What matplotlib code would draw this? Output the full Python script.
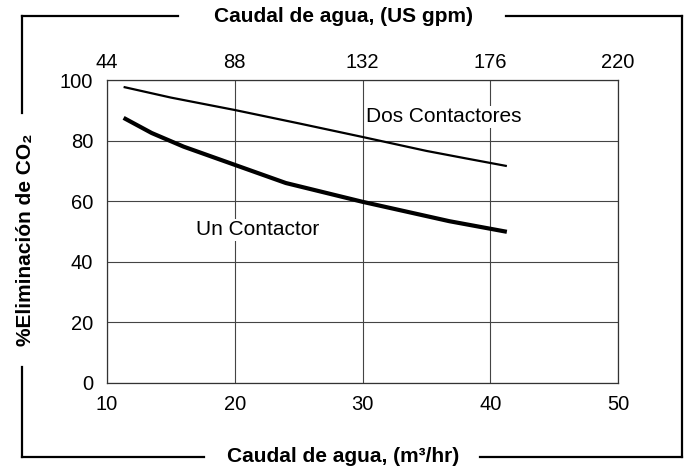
import matplotlib
matplotlib.use("Agg")
import matplotlib.pyplot as plt
from matplotlib.lines import Line2D

plt.rcParams["font.family"] = ["Liberation Sans", "DejaVu Sans"]

# datos (caudal en m3/hr, % eliminación de CO2)
dos_x = [11.3, 15, 20, 25, 30, 35, 38, 41.3]
dos_y = [97.7, 94.2, 90.1, 85.7, 81.2, 76.6, 74.2, 71.6]
un_x = [11.3, 13.5, 16, 20, 24, 30, 36.8, 41.3]
un_y = [87.5, 82.5, 78.0, 72.0, 66.0, 59.8, 53.4, 49.9]

xticks = [10, 20, 30, 40, 50]
yticks = [0, 20, 40, 60, 80, 100]
gpm_ticks = [44, 88, 132, 176, 220]

W, H = 686, 467


def fx(px):
    return px / W


def fy(py):
    return 1 - py / H


fig = plt.figure(figsize=(W / 100, H / 100), dpi=100)
ax = fig.add_axes([fx(107), fy(383), 511 / W, 303 / H])

ax.plot(dos_x, dos_y, color="black", lw=1.6, solid_capstyle="butt", zorder=3)
ax.plot(un_x, un_y, color="black", lw=3.0, solid_capstyle="butt", zorder=3)

ax.set_xlim(10, 50)
ax.set_ylim(0, 100)
ax.set_xticks(xticks)
ax.set_yticks(yticks)
ax.grid(True, color="#444444", lw=0.8)
ax.tick_params(length=0, labelsize=14.5)
ax.tick_params(axis="x", pad=9)
ax.tick_params(axis="y", pad=10)
for s in ax.spines.values():
    s.set_color("#333333")
    s.set_linewidth(0.9)

top = ax.twiny()
top.set_xlim(44, 220)
top.set_xticks(gpm_ticks)
top.tick_params(length=0, labelsize=14.5, pad=6)
for s in top.spines.values():
    s.set_visible(False)

caja = dict(facecolor="white", edgecolor="none", pad=1)
ax.text(30.3, 87.8, "Dos Contactores", fontsize=15, va="center", ha="left",
        bbox=caja, zorder=4)
ax.text(17.0, 50.5, "Un Contactor", fontsize=15, va="center", ha="left",
        bbox=caja, zorder=4)

# marco exterior, cortado donde van los títulos
tramos = [
    ((22, 16), (178, 16)), ((506, 16), (682, 16)),
    ((682, 16), (682, 457)),
    ((22, 457), (204, 457)), ((480, 457), (682, 457)),
    ((22, 16), (22, 113)), ((22, 367), (22, 457)),
]
for (x0, y0), (x1, y1) in tramos:
    fig.add_artist(Line2D([fx(x0), fx(x1)], [fy(y0), fy(y1)], color="black",
                          lw=1.6, solid_capstyle="projecting",
                          transform=fig.transFigure))

fig.text(fx(343), fy(16), "Caudal de agua, (US gpm)", ha="center",
         va="center", fontsize=15, fontweight="bold")
fig.text(fx(343), fy(457), "Caudal de agua, (m³/hr)", ha="center",
         va="center", fontsize=15, fontweight="bold")
fig.text(fx(26), fy(240), "%Eliminación de CO₂", ha="center",
         va="center", rotation=90, fontsize=15, fontweight="bold")

fig.savefig("out.png", dpi=100)
